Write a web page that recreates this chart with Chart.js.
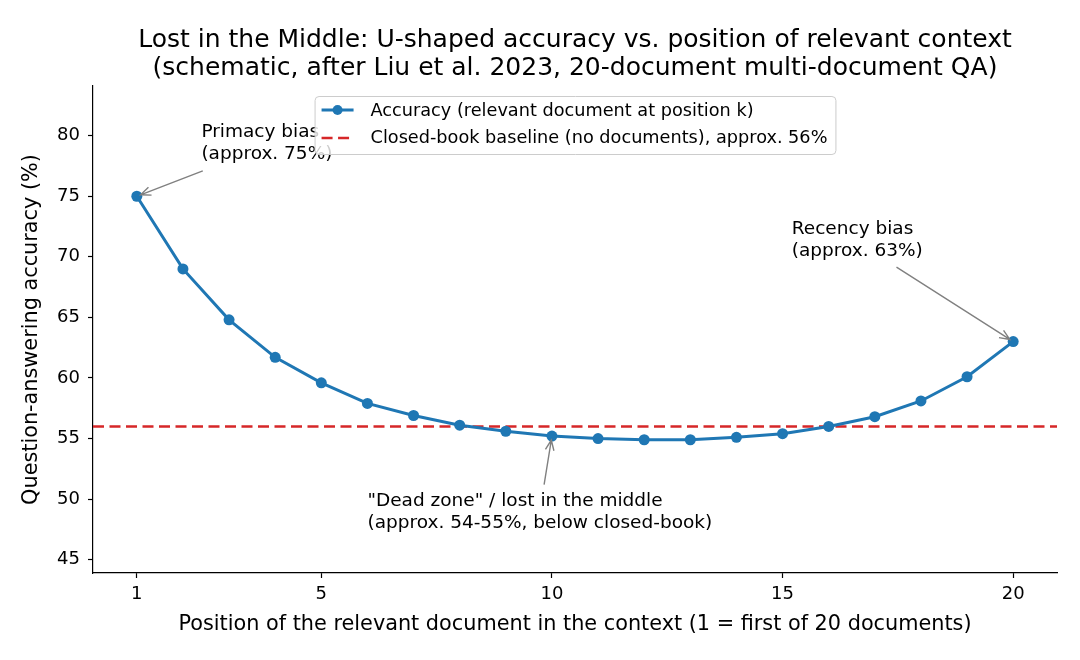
<!DOCTYPE html>
<html>
<head>
<meta charset="utf-8">
<script src="https://cdn.jsdelivr.net/npm/chart.js@4"></script>
<style>
  body { margin: 0; background: #fff; }
</style>
</head>
<body>
<canvas id="lostChart" width="1080" height="660"></canvas>
<script>
// data
const positions = [1, 2, 3, 4, 5, 6, 7, 8, 9, 10, 11, 12, 13, 14, 15, 16, 17, 18, 19, 20];
const accuracy = [75.0, 69.0, 64.8, 61.7, 59.6, 57.9, 56.9, 56.1, 55.6, 55.2, 55.0, 54.9, 54.9, 55.1, 55.4, 56.0, 56.8, 58.1, 60.1, 63.0];
const baselineValue = 56;
const xTickValues = [1, 5, 10, 15, 20];
const yTickValues = [45, 50, 55, 60, 65, 70, 75, 80];
const xLimits = [0.05, 20.95];
const yLimits = [43.9, 84.1];

const titleLines = [
  "Lost in the Middle: U-shaped accuracy vs. position of relevant context",
  "(schematic, after Liu et al. 2023, 20-document multi-document QA)",
];
const legendLabels = [
  "Accuracy (relevant document at position k)",
  "Closed-book baseline (no documents), approx. 56%",
];
// text anchor [x, y of first line], arrow tail [x, y], arrow target [x, y]
const notes = [
  { lines: ["Primacy bias", "(approx. 75%)"], text: [2.4, 80.3], tail: [2.43, 77.1], head: [1, 75] },
  { lines: ["Recency bias", "(approx. 63%)"], text: [15.2, 72.3], tail: [17.47, 69.15], head: [20, 63] },
  { lines: ['"Dead zone" / lost in the middle', "(approx. 54-55%, below closed-book)"], text: [6.0, 49.8], tail: [9.83, 51.2], head: [10, 55.2] },
];

const FONT = "'DejaVu Sans', sans-serif";
const BLUE = "#1f77b4";
const RED = "#d62728";

const drawArrow = (ctx, x1, y1, x2, y2) => {
  const ang = Math.atan2(y2 - y1, x2 - x1);
  const shrink = 4;
  const hx = x2 - Math.cos(ang) * shrink;
  const hy = y2 - Math.sin(ang) * shrink;
  ctx.save();
  ctx.strokeStyle = "#808080";
  ctx.lineWidth = 1.4;
  ctx.beginPath();
  ctx.moveTo(x1, y1);
  ctx.lineTo(hx, hy);
  const len = 11, spread = 0.4;
  ctx.moveTo(hx - len * Math.cos(ang - spread), hy - len * Math.sin(ang - spread));
  ctx.lineTo(hx, hy);
  ctx.lineTo(hx - len * Math.cos(ang + spread), hy - len * Math.sin(ang + spread));
  ctx.stroke();
  ctx.restore();
};

const extrasPlugin = {
  id: "extras",
  afterDraw(chart) {
    const ctx = chart.ctx;
    const area = chart.chartArea;
    const xs = chart.scales.x;
    const ys = chart.scales.y;
    const midX = (area.left + area.right) / 2;

    // title
    ctx.save();
    ctx.fillStyle = "#000";
    ctx.font = "25px " + FONT;
    ctx.textAlign = "center";
    ctx.textBaseline = "alphabetic";
    titleLines.forEach((t, i) => ctx.fillText(t, midX, 47 + i * 28));
    ctx.restore();

    // annotations
    notes.forEach((n) => {
      ctx.save();
      ctx.fillStyle = "#000";
      ctx.font = "18.5px " + FONT;
      ctx.textAlign = "left";
      ctx.textBaseline = "middle";
      const tx = xs.getPixelForValue(n.text[0]);
      const ty = ys.getPixelForValue(n.text[1]);
      n.lines.forEach((l, i) => ctx.fillText(l, tx, ty + i * 22));
      ctx.restore();
      drawArrow(ctx,
        xs.getPixelForValue(n.tail[0]), ys.getPixelForValue(n.tail[1]),
        xs.getPixelForValue(n.head[0]), ys.getPixelForValue(n.head[1]));
    });

    // legend (upper center)
    ctx.save();
    ctx.font = "17.7px " + FONT;
    const textW = Math.max(...legendLabels.map((l) => ctx.measureText(l).width));
    const boxW = 56 + textW + 8;
    const boxH = 58;
    const bx = midX - boxW / 2;
    const by = area.top + 10;
    ctx.fillStyle = "rgba(255,255,255,0.8)";
    ctx.strokeStyle = "#cccccc";
    ctx.lineWidth = 1;
    ctx.beginPath();
    ctx.roundRect(bx + 0.5, by + 0.5, boxW, boxH, 4);
    ctx.fill();
    ctx.stroke();

    const row1 = by + 14, row2 = by + 42;
    ctx.strokeStyle = BLUE;
    ctx.lineWidth = 3;
    ctx.beginPath();
    ctx.moveTo(bx + 7, row1);
    ctx.lineTo(bx + 39, row1);
    ctx.stroke();
    ctx.fillStyle = BLUE;
    ctx.beginPath();
    ctx.arc(bx + 23, row1, 5, 0, Math.PI * 2);
    ctx.fill();

    ctx.strokeStyle = RED;
    ctx.lineWidth = 2.5;
    ctx.setLineDash([11, 5.5]);
    ctx.beginPath();
    ctx.moveTo(bx + 7, row2);
    ctx.lineTo(bx + 39, row2);
    ctx.stroke();
    ctx.setLineDash([]);

    ctx.fillStyle = "#000";
    ctx.textAlign = "left";
    ctx.textBaseline = "middle";
    ctx.fillText(legendLabels[0], bx + 56, row1 + 1);
    ctx.fillText(legendLabels[1], bx + 56, row2);
    ctx.restore();
  },
};

const ctx = document.getElementById("lostChart").getContext("2d");

window.lostChart = new Chart(ctx, {
  type: "line",
  data: {
    datasets: [
      {
        label: legendLabels[0],
        data: positions.map((p, i) => ({ x: p, y: accuracy[i] })),
        borderColor: BLUE,
        backgroundColor: BLUE,
        borderWidth: 3,
        pointRadius: 5.5,
        pointBorderWidth: 0,
        pointBackgroundColor: BLUE,
        order: 1,
      },
      {
        label: legendLabels[1],
        data: xLimits.map((x) => ({ x: x, y: baselineValue })),
        borderColor: RED,
        borderWidth: 2.5,
        borderDash: [11, 5.5],
        pointRadius: 0,
        order: 2,
      },
    ],
  },
  options: {
    responsive: false,
    animation: false,
    devicePixelRatio: 1,
    layout: { padding: { top: 86, right: 23, left: 0, bottom: 0 } },
    elements: { line: { tension: 0 } },
    plugins: {
      legend: { display: false },
      title: { display: false },
      tooltip: { enabled: false },
    },
    scales: {
      x: {
        type: "linear",
        min: xLimits[0],
        max: xLimits[1],
        afterBuildTicks: (scale) => {
          scale.ticks = xTickValues.map((v) => ({ value: v }));
        },
        afterFit: (scale) => {
          scale.height = 87;
        },
        grid: {
          drawOnChartArea: false,
          drawTicks: true,
          tickLength: 5,
          tickColor: "#000",
          tickWidth: 1.2,
        },
        border: { display: true, color: "#000", width: 1.2 },
        ticks: {
          color: "#000",
          font: { family: FONT, size: 18 },
          padding: 6,
          maxRotation: 0,
          autoSkip: false,
        },
        title: {
          display: true,
          text: "Position of the relevant document in the context (1 = first of 20 documents)",
          color: "#000",
          font: { family: FONT, size: 20.8 },
          padding: { top: 0, bottom: 23 },
        },
      },
      y: {
        type: "linear",
        min: yLimits[0],
        max: yLimits[1],
        afterBuildTicks: (scale) => {
          scale.ticks = yTickValues.map((v) => ({ value: v }));
        },
        afterFit: (scale) => {
          scale.width = 93;
        },
        grid: {
          drawOnChartArea: false,
          drawTicks: true,
          tickLength: 5,
          tickColor: "#000",
          tickWidth: 1.2,
        },
        border: { display: true, color: "#000", width: 1.2 },
        ticks: {
          color: "#000",
          font: { family: FONT, size: 18 },
          padding: 8,
          autoSkip: false,
        },
        title: {
          display: true,
          text: "Question-answering accuracy (%)",
          color: "#000",
          font: { family: FONT, size: 20.8 },
          padding: { top: 19, bottom: 0 },
        },
      },
    },
  },
  plugins: [extrasPlugin],
});
</script>
</body>
</html>
